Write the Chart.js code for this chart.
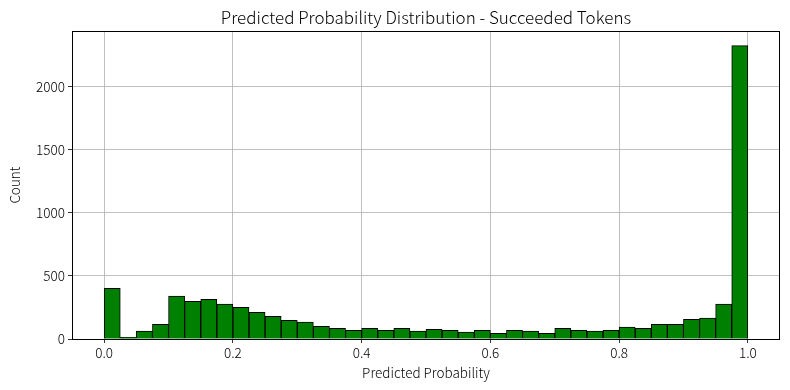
<!DOCTYPE html>
<html>
<head>
<meta charset="utf-8">
<script src="https://cdn.jsdelivr.net/npm/chart.js@4/dist/chart.umd.min.js"></script>
<style>
html,body{margin:0;padding:0;background:#fff;}
#wrap{width:790px;height:390px;}
</style>
</head>
<body>
<div id="wrap"><canvas id="c" width="790" height="390"></canvas></div>
<script>
const binWidth = 0.025;
const binStarts = [0.000,0.025,0.050,0.075,0.100,0.125,0.150,0.175,0.200,0.225,
                   0.250,0.275,0.300,0.325,0.350,0.375,0.400,0.425,0.450,0.475,
                   0.500,0.525,0.550,0.575,0.600,0.625,0.650,0.675,0.700,0.725,
                   0.750,0.775,0.800,0.825,0.850,0.875,0.900,0.925,0.950,0.975];
const counts = [402,14,63,116,341,299,315,277,251,211,
                180,148,135,101,85,69,85,69,85,63,
                77,69,55,69,45,69,63,45,85,69,
                63,69,95,85,116,116,156,166,277,2325];
const xTicks = [0.0,0.2,0.4,0.6,0.8,1.0];
const yTicks = [0,500,1000,1500,2000];
const titleText = 'Predicted Probability Distribution - Succeeded Tokens';
const xLabel = 'Predicted Probability';
const yLabel = 'Count';

const FONT = '"Noto Sans CJK KR", "Noto Sans", sans-serif';
const W = 300;

const framePlugin = {
  id: 'frame',
  afterDraw(chart) {
    const a = chart.chartArea, ctx = chart.ctx;
    ctx.save();
    ctx.strokeStyle = '#000';
    ctx.lineWidth = 1;
    ctx.strokeRect(Math.round(a.left) + 0.5, Math.round(a.top) + 0.5,
                   Math.round(a.right - a.left) - 1, Math.round(a.bottom - a.top));
    // axes title, centred over the plot area as in the reference
    ctx.fillStyle = '#000';
    ctx.font = W + ' 17px ' + FONT;
    ctx.textAlign = 'center';
    ctx.textBaseline = 'middle';
    ctx.fillText(titleText, (a.left + a.right) / 2, a.top - 13);
    ctx.restore();
  }
};

new Chart(document.getElementById('c'), {
  type: 'bar',
  data: {
    datasets: [{
      data: binStarts.map((s, i) => ({x: s + binWidth / 2, y: counts[i]})),
      backgroundColor: '#008000',
      borderColor: '#000000',
      borderWidth: 1,
      barPercentage: 1.0,
      categoryPercentage: 1.0
    }]
  },
  options: {
    responsive: false,
    animation: false,
    layout: {padding: {left: 0, right: 10, top: 31, bottom: 0}},
    plugins: {
      legend: {display: false},
      tooltip: {enabled: false},
      title: {display: false}
    },
    scales: {
      x: {
        type: 'linear',
        min: -0.05,
        max: 1.05,
        offset: false,
        z: 1,
        afterBuildTicks: s => { s.ticks = xTicks.map(v => ({value: v})); },
        afterFit: s => { s.height = 51; },
        ticks: {
          color: '#000',
          font: {family: FONT, size: 13.5, weight: W},
          padding: 2,
          maxRotation: 0,
          autoSkip: false,
          callback: v => Number(v).toFixed(1)
        },
        grid: {color: '#b0b0b0', lineWidth: 0.8, tickLength: 4, tickColor: '#000', offset: false},
        border: {display: false},
        title: {display: true, text: xLabel, color: '#000',
                font: {family: FONT, size: 13.5, weight: W}, padding: {top: 0, bottom: 9}}
      },
      y: {
        type: 'linear',
        min: 0,
        max: 2441,
        z: 1,
        afterBuildTicks: s => { s.ticks = yTicks.map(v => ({value: v})); },
        afterFit: s => { s.width = 72; },
        ticks: {
          color: '#000',
          font: {family: FONT, size: 13.5, weight: W},
          padding: 3,
          autoSkip: false,
          callback: v => String(v)
        },
        grid: {color: '#b0b0b0', lineWidth: 0.8, tickLength: 4, tickColor: '#000'},
        border: {display: false},
        title: {display: true, text: yLabel, color: '#000',
                font: {family: FONT, size: 13.5, weight: W}, padding: {top: 7, bottom: 0}}
      }
    }
  },
  plugins: [framePlugin]
});
</script>
</body>
</html>
